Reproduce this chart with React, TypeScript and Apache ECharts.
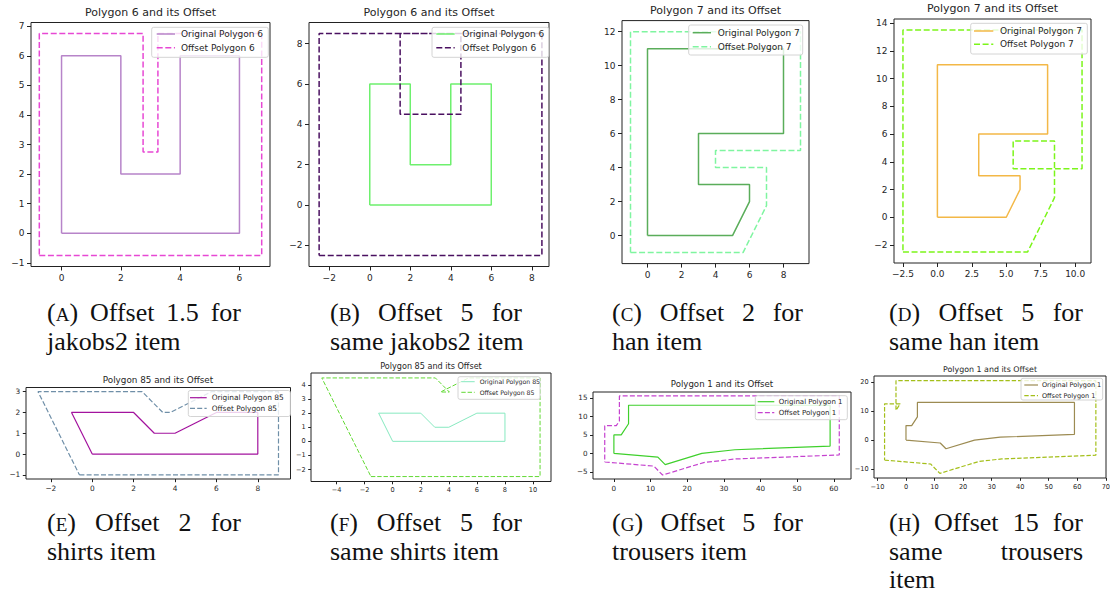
import React, { useEffect, useRef } from 'react';
import * as echarts from 'echarts';

// ---------------- data (polygon vertices [x, y]) ----------------
const polygon6 = [[0, 0], [6, 0], [6, 6], [4, 6], [4, 2], [2, 2], [2, 6], [0, 6]];
const polygon6Offset15 = [[-0.75, -0.75], [6.75, -0.75], [6.75, 6.75], [3.25, 6.75], [3.25, 2.75], [2.75, 2.75], [2.75, 6.75], [-0.75, 6.75]];
const polygon6Offset5 = [[-2.5, -2.5], [8.5, -2.5], [8.5, 8.5], [1.5, 8.5], [1.5, 4.5], [4.5, 4.5], [4.5, 8.5], [-2.5, 8.5]];
const polygon7 = [[0, 0], [5, 0], [6, 2], [6, 3], [3, 3], [3, 6], [8, 6], [8, 11], [0, 11]];
const polygon7Offset2 = [[-1, -1], [5.62, -1], [7, 1.76], [7, 4], [4, 4], [4, 5], [9, 5], [9, 12], [-1, 12]];
const polygon7Offset5 = [[-2.5, -2.5], [6.55, -2.5], [8.5, 1.41], [8.5, 5.5], [5.5, 5.5], [5.5, 3.5], [10.5, 3.5], [10.5, 13.5], [-2.5, 13.5]];
const polygon85 = [[0, 0], [8, 0], [8, 2], [6, 2], [4, 1], [3, 1], [2, 2], [-1, 2]];
const polygon85Offset2 = [[-0.62, -1], [9, -1], [9, 3], [5.76, 3], [3.77, 2], [3.41, 2], [2.41, 3], [-2.62, 3]];
const polygon85Offset5 = [[-1.55, -2.5], [10.5, -2.5], [10.5, 4.5], [5.41, 4.5], [3.41, 3.5], [4.04, 3.5], [3.04, 4.5], [-5.05, 4.5]];
const polygon1 = [[0, 0], [12, -1], [14, -3], [24, 0], [33, 1], [59, 2], [59, 13], [4, 13], [4, 8], [2, 5], [0, 5]];
const polygon1Offset5 = [[-2.5, -2.3], [10.88, -3.41], [13.29, -5.82], [24.5, -2.46], [33.19, -1.49], [61.5, -0.41], [61.5, 15.5], [1.5, 15.5], [1.5, 8.76], [0.66, 7.5], [-2.5, 7.5]];
const polygon1Offset15 = [[-7.5, -6.9], [8.64, -8.25], [11.87, -11.47], [25.51, -7.38], [33.55, -6.49], [66.5, -5.22], [66.5, 20.5], [-3.5, 20.5], [-3.5, 10.27], [-2.01, 12.5], [-7.5, 12.5]];

// tick labels
const ticksA_x = [0, 2, 4, 6];
const ticksA_y = [-1, 0, 1, 2, 3, 4, 5, 6, 7];
const ticksB_x = [-2, 0, 2, 4, 6, 8];
const ticksB_y = [-2, 0, 2, 4, 6, 8];
const ticksC_x = [0, 2, 4, 6, 8];
const ticksC_y = [0, 2, 4, 6, 8, 10, 12];
const ticksD_x = [-2.5, 0, 2.5, 5, 7.5, 10];
const ticksD_y = [-2, 0, 2, 4, 6, 8, 10, 12, 14];
const ticksE_x = [-2, 0, 2, 4, 6, 8];
const ticksE_y = [-1, 0, 1, 2, 3];
const ticksF_x = [-4, -2, 0, 2, 4, 6, 8, 10];
const ticksF_y = [-2, -1, 0, 1, 2, 3, 4];
const ticksG_x = [0, 10, 20, 30, 40, 50, 60];
const ticksG_y = [-5, 0, 5, 10, 15];
const ticksH_x = [-10, 0, 10, 20, 30, 40, 50, 60, 70];
const ticksH_y = [-10, 0, 10, 20];

// texts
const titles = ['Polygon 6 and its Offset', 'Polygon 6 and its Offset', 'Polygon 7 and its Offset', 'Polygon 7 and its Offset',
  'Polygon 85 and its Offset', 'Polygon 85 and its Offset', 'Polygon 1 and its Offset', 'Polygon 1 and its Offset'];
const originalNames = ['Original Polygon 6', 'Original Polygon 6', 'Original Polygon 7', 'Original Polygon 7',
  'Original Polygon 85', 'Original Polygon 85', 'Original Polygon 1', 'Original Polygon 1'];
const offsetNames = ['Offset Polygon 6', 'Offset Polygon 6', 'Offset Polygon 7', 'Offset Polygon 7',
  'Offset Polygon 85', 'Offset Polygon 85', 'Offset Polygon 1', 'Offset Polygon 1'];
const captionLabels = ['A', 'B', 'C', 'D', 'E', 'F', 'G', 'H'];
const captionLines = [
  [['Offset', '1.5', 'for'], ['jakobs2', 'item']],
  [['Offset', '5', 'for'], ['same', 'jakobs2', 'item']],
  [['Offset', '2', 'for'], ['han', 'item']],
  [['Offset', '5', 'for'], ['same', 'han', 'item']],
  [['Offset', '2', 'for'], ['shirts', 'item']],
  [['Offset', '5', 'for'], ['same', 'shirts', 'item']],
  [['Offset', '5', 'for'], ['trousers', 'item']],
  [['Offset', '15', 'for'], ['same', 'trousers'], ['item']],
];
const captionJustify = [
  [true, false], [true, false], [true, false], [true, false],
  [true, false], [true, false], [true, false], [true, true, false],
];

const originals = [polygon6, polygon6, polygon7, polygon7, polygon85, polygon85, polygon1, polygon1];
const offsets = [polygon6Offset15, polygon6Offset5, polygon7Offset2, polygon7Offset5, polygon85Offset2, polygon85Offset5, polygon1Offset5, polygon1Offset15];
const xTicks = [ticksA_x, ticksB_x, ticksC_x, ticksD_x, ticksE_x, ticksF_x, ticksG_x, ticksH_x];
const yTicks = [ticksA_y, ticksB_y, ticksC_y, ticksD_y, ticksE_y, ticksF_y, ticksG_y, ticksH_y];

// ---------------- styling / layout ----------------
const origColors = ['#b784c9', '#6ef06e', '#5aad5a', '#f3b847', '#a3139e', '#87e9c0', '#3fd02c', '#9c8b52'];
const offColors = ['#e748d4', '#4a1060', '#7ff5a0', '#7cf51a', '#6f8fa8', '#62d934', '#c542cf', '#a4bf1a'];

type Layout = {
  grid: number[]; // left, top, width, height
  xr: number[]; yr: number[]; xDec: number;
  titleX: number; titleY: number; titleFs: number; tickFs: number; tickLen: number; lw: number; dash: number[];
  legend: number[]; // boxX, boxY, boxW, boxH, lineX1, lineX2, textX, row1, row2, fs
};
const layouts: Layout[] = [
  { grid: [31, 22.5, 239, 244], xr: [-1.03, 7.03], yr: [-1.125, 7.125], xDec: 0, titleX: 150.5, titleY: 12, titleFs: 11, tickFs: 9, tickLen: 4, lw: 1.5, dash: [6, 2.6],
    legend: [151.7, 27.3, 116.6, 30, 156.7, 175, 181, 34, 47.7, 9] },
  { grid: [309, 22.5, 240, 244], xr: [-3.0, 8.85], yr: [-3.05, 9.05], xDec: 0, titleX: 429, titleY: 12, titleFs: 11, tickFs: 9, tickLen: 4, lw: 1.5, dash: [6, 2.6],
    legend: [432, 27.3, 116.7, 30, 436.3, 454.7, 462.3, 34, 47.7, 9] },
  { grid: [622, 20.6, 187, 243], xr: [-1.5, 9.5], yr: [-1.65, 12.65], xDec: 0, titleX: 715.5, titleY: 10.3, titleFs: 11, tickFs: 9, tickLen: 4, lw: 1.5, dash: [6, 2.6],
    legend: [688.7, 25, 114, 30, 692.7, 711, 717.7, 32.7, 46.7, 9] },
  { grid: [894, 19, 197, 244], xr: [-3.15, 11.15], yr: [-3.3, 14.3], xDec: 1, titleX: 992.5, titleY: 8.3, titleFs: 11, tickFs: 9, tickLen: 4, lw: 1.5, dash: [6, 2.6],
    legend: [970.7, 23.3, 116.6, 30.7, 974, 993.3, 1000, 31, 44.3, 9] },
  { grid: [26, 387.5, 264.5, 91.5], xr: [-3.2, 9.58], yr: [-1.2, 3.2], xDec: 0, titleX: 158, titleY: 380, titleFs: 8.8, tickFs: 7.4, tickLen: 3.2, lw: 1.2, dash: [5, 2.2],
    legend: [188.3, 390.5, 102, 26, 190, 206.7, 211.7, 397.7, 408.3, 7.4] },
  { grid: [311, 373, 240, 108.5], xr: [-5.82, 11.28], yr: [-2.85, 4.85], xDec: 0, titleX: 431, titleY: 366, titleFs: 8.1, tickFs: 6.6, tickLen: 2.8, lw: 1.0, dash: [4.4, 1.9],
    legend: [458, 376.7, 82, 22.6, 461.3, 474.7, 479.7, 381.7, 392.3, 6.2] },
  { grid: [593, 392, 258, 87], xr: [-5.7, 64.7], yr: [-6.89, 16.57], xDec: 0, titleX: 722, titleY: 384.3, titleFs: 8.6, tickFs: 7.2, tickLen: 3, lw: 1.2, dash: [5, 2.2],
    legend: [755.3, 395.7, 92, 24, 757.7, 774.3, 778.7, 401.7, 412.7, 7] },
  { grid: [874, 376, 232, 102], xr: [-11.2, 70.05], yr: [-13.07, 22.1], xDec: 0, titleX: 990, titleY: 369, titleFs: 7.9, tickFs: 6.6, tickLen: 2.8, lw: 1.2, dash: [4.4, 1.9],
    legend: [1021, 378.3, 81.7, 21.7, 1024.3, 1038, 1042, 385, 395.7, 6.5] },
];
const captionCols = [[47, 241], [330, 522], [612, 803], [889, 1083], [47, 241], [330, 522], [612, 803], [889, 1083]];
const captionBaselines = [[321, 350], [321, 350], [321, 350], [321, 350], [531, 560, 588], [531, 560, 588], [531, 560, 588], [531, 560, 588]];

const SANS = '"DejaVu Sans", sans-serif';
const SERIF = '"Liberation Serif", serif';
const CAP_FS = 26;
const SC_FS = 19;
const TEXT = '#262626';

function fmt(dec: number) {
  return (v: number) => {
    const a = Math.abs(v);
    const s = dec ? a.toFixed(dec) : String(Math.round(a * 1000) / 1000);
    return v < 0 ? '\u2212' + s : s;
  };
}

function buildOption() {
  const canvas = document.createElement('canvas');
  const ctx = canvas.getContext('2d')!;
  const tw = (t: string, size: number) => { ctx.font = `${size}px ${SERIF}`; return ctx.measureText(t).width; };
  const central = 0.3375; // alphabetic baseline offset from em-box centre (fraction of size)

  const grids: any[] = [];
  const xAxes: any[] = [];
  const yAxes: any[] = [];
  const series: any[] = [];
  const graphics: any[] = [];

  layouts.forEach((L, i) => {
    grids.push({ left: L.grid[0], top: L.grid[1], width: L.grid[2], height: L.grid[3], show: true,
      borderColor: '#222', borderWidth: 1, backgroundColor: 'transparent', containLabel: false, outerBoundsMode: 'none' });
    const axisCommon = (ticks: number[], dec: number) => ({
      type: 'value', gridIndex: i, axisLine: { show: false, onZero: false }, splitLine: { show: false },
      axisTick: { show: true, customValues: ticks, length: L.tickLen, inside: false, lineStyle: { color: '#222', width: 1 } },
      axisLabel: { show: true, customValues: ticks, formatter: fmt(dec), fontSize: L.tickFs, fontFamily: SANS, color: TEXT, margin: L.tickLen + 2.5 },
    });
    xAxes.push({ ...axisCommon(xTicks[i], L.xDec), position: 'bottom', min: L.xr[0], max: L.xr[1] });
    yAxes.push({ ...axisCommon(yTicks[i], 0), position: 'left', min: L.yr[0], max: L.yr[1] });
    const close = (p: number[][]) => [...p, p[0]];
    series.push({ type: 'line', name: originalNames[i], xAxisIndex: i, yAxisIndex: i, data: close(originals[i]),
      showSymbol: false, symbol: 'none', silent: true, clip: true,
      lineStyle: { color: origColors[i], width: L.lw, type: 'solid' }, itemStyle: { color: origColors[i] } });
    series.push({ type: 'line', name: offsetNames[i], xAxisIndex: i, yAxisIndex: i, data: close(offsets[i]),
      showSymbol: false, symbol: 'none', silent: true, clip: true,
      lineStyle: { color: offColors[i], width: L.lw, type: L.dash }, itemStyle: { color: offColors[i] } });

    // title
    graphics.push({ type: 'text', x: L.titleX, y: L.titleY, z: 100,
      style: { text: titles[i], fontSize: L.titleFs, fontFamily: SANS, fill: TEXT, textAlign: 'center', textVerticalAlign: 'middle', align: 'center', verticalAlign: 'middle' } });
    // legend
    const G = L.legend;
    graphics.push({ type: 'rect', z: 100, shape: { x: G[0], y: G[1], width: G[2], height: G[3], r: 2 },
      style: { fill: 'rgba(255,255,255,0.8)', stroke: '#d4d4d4', lineWidth: 1 } });
    graphics.push({ type: 'line', z: 101, shape: { x1: G[4], y1: G[7], x2: G[5], y2: G[7] }, style: { stroke: origColors[i], lineWidth: L.lw } });
    graphics.push({ type: 'line', z: 101, shape: { x1: G[4], y1: G[8], x2: G[5], y2: G[8] }, style: { stroke: offColors[i], lineWidth: L.lw, lineDash: L.dash } });
    graphics.push({ type: 'text', z: 101, x: G[6], y: G[7],
      style: { text: originalNames[i], fontSize: G[9], fontFamily: SANS, fill: TEXT, textAlign: 'left', textVerticalAlign: 'middle', align: 'left', verticalAlign: 'middle' } });
    graphics.push({ type: 'text', z: 101, x: G[6], y: G[8],
      style: { text: offsetNames[i], fontSize: G[9], fontFamily: SANS, fill: TEXT, textAlign: 'left', textVerticalAlign: 'middle', align: 'left', verticalAlign: 'middle' } });

    // caption
    const [x0, x1] = captionCols[i];
    captionLines[i].forEach((words, li) => {
      const base = captionBaselines[i][li];
      type Tok = { parts: { t: string; fs: number }[] };
      const toks: Tok[] = [];
      if (li === 0) toks.push({ parts: [{ t: '(', fs: CAP_FS }, { t: captionLabels[i], fs: SC_FS }, { t: ')', fs: CAP_FS }] });
      words.forEach((w) => toks.push({ parts: [{ t: w, fs: CAP_FS }] }));
      const widths = toks.map((tk) => tk.parts.reduce((s, p) => s + tw(p.t, p.fs), 0));
      const total = widths.reduce((a, b) => a + b, 0);
      const gap = captionJustify[i][li] && toks.length > 1 ? (x1 - x0 - total) / (toks.length - 1) : tw(' ', CAP_FS);
      let x = x0;
      toks.forEach((tk, ti) => {
        let px = x;
        tk.parts.forEach((p) => {
          graphics.push({ type: 'text', z: 100, x: px, y: base - central * p.fs,
            style: { text: p.t, fontSize: p.fs, fontFamily: SERIF, fill: '#111', textAlign: 'left', textVerticalAlign: 'middle', align: 'left', verticalAlign: 'middle' } });
          px += tw(p.t, p.fs);
        });
        x += widths[ti] + gap;
      });
    });
  });

  return {
    animation: false,
    backgroundColor: '#ffffff',
    grid: grids,
    xAxis: xAxes,
    yAxis: yAxes,
    series,
    graphic: { elements: graphics },
  };
}

export default function App() {
  const ref = useRef<HTMLDivElement>(null);
  useEffect(() => {
    document.body.style.margin = '0';
    const chart = echarts.init(ref.current!, null, { renderer: 'svg' });
    chart.setOption(buildOption() as any);
    return () => chart.dispose();
  }, []);
  return <div ref={ref} style={{ width: 1110, height: 594, background: '#fff' }} />;
}
